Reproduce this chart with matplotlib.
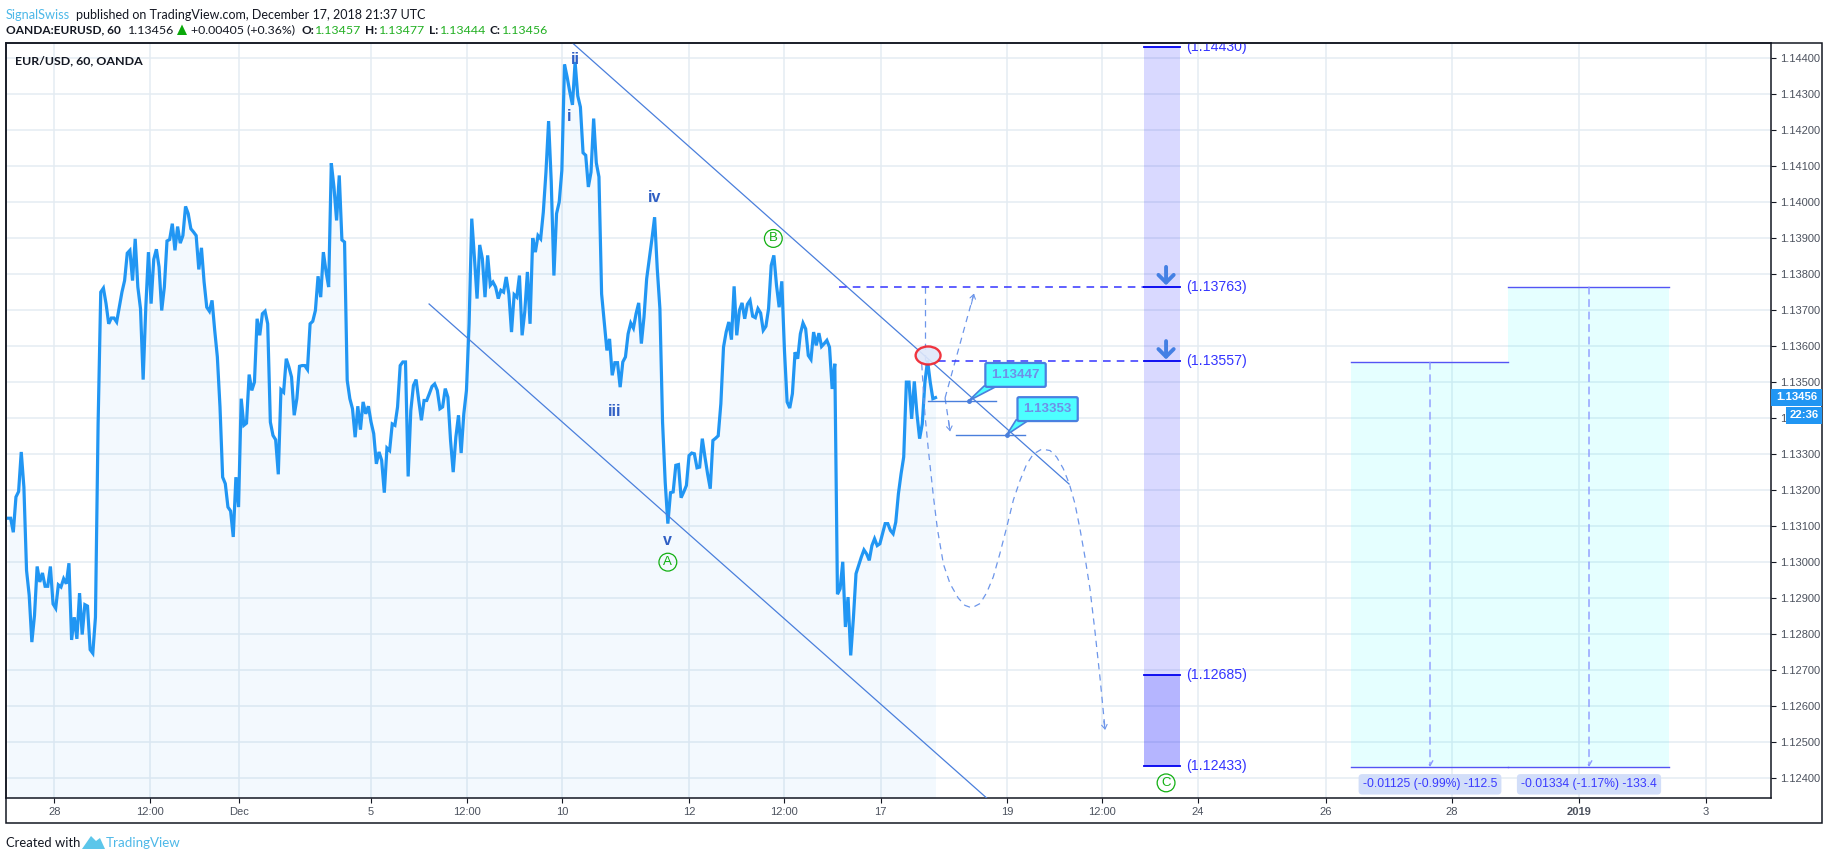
import numpy as np
import matplotlib
matplotlib.use('Agg')
import matplotlib.pyplot as plt
from matplotlib.patches import Ellipse, Rectangle, Polygon

W, H = 1828, 860

# close of each hourly bar
close = [
    1.13121, 1.13121, 1.13082, 1.13180, 1.13195, 1.13305, 1.13207, 1.12976, 1.12907, 1.12777, 1.12851, 1.12987,
    1.12944, 1.12969, 1.12932, 1.12932, 1.12987, 1.12883, 1.12871, 1.12936, 1.12930, 1.12953, 1.12939, 1.12996,
    1.12783, 1.12846, 1.12786, 1.12913, 1.12798, 1.12881, 1.12877, 1.12756, 1.12746, 1.12846, 1.13383, 1.13749,
    1.13760, 1.13717, 1.13661, 1.13677, 1.13677, 1.13666, 1.13707, 1.13749, 1.13781, 1.13857, 1.13865, 1.13781,
    1.13897, 1.13763, 1.13703, 1.13506, 1.13707, 1.13860, 1.13717, 1.13840, 1.13868, 1.13819, 1.13698, 1.13763,
    1.13891, 1.13895, 1.13939, 1.13865, 1.13931, 1.13885, 1.13906, 1.13987, 1.13967, 1.13925, 1.13916, 1.13906,
    1.13812, 1.13872, 1.13777, 1.13707, 1.13696, 1.13726, 1.13643, 1.13569, 1.13430, 1.13235, 1.13217, 1.13152,
    1.13141, 1.13069, 1.13235, 1.13152, 1.13453, 1.13379, 1.13385, 1.13520, 1.13476, 1.13499, 1.13675, 1.13629,
    1.13689, 1.13696, 1.13661, 1.13388, 1.13351, 1.13339, 1.13243, 1.13478, 1.13471, 1.13564, 1.13541, 1.13513,
    1.13407, 1.13453, 1.13543, 1.13545, 1.13545, 1.13534, 1.13661, 1.13668, 1.13698, 1.13793, 1.13735, 1.13860,
    1.13807, 1.13763, 1.14107, 1.14041, 1.13948, 1.14073, 1.13894, 1.13888, 1.13504, 1.13453, 1.13425, 1.13346,
    1.13432, 1.13367, 1.13444, 1.13411, 1.13432, 1.13388, 1.13356, 1.13272, 1.13305, 1.13282, 1.13192, 1.13316,
    1.13309, 1.13383, 1.13379, 1.13430, 1.13545, 1.13555, 1.13555, 1.13237, 1.13420, 1.13490, 1.13506, 1.13448,
    1.13393, 1.13448, 1.13448, 1.13467, 1.13487, 1.13494, 1.13476, 1.13425, 1.13430, 1.13481, 1.13457, 1.13337,
    1.13249, 1.13346, 1.13407, 1.13302, 1.13411, 1.13476, 1.13661, 1.13953, 1.13846, 1.13731, 1.13880, 1.13842,
    1.13735, 1.13851, 1.13768, 1.13777, 1.13763, 1.13731, 1.13754, 1.13749, 1.13791, 1.13744, 1.13638, 1.13742,
    1.13735, 1.13795, 1.13629, 1.13694, 1.13805, 1.13661, 1.13899, 1.13860, 1.13906, 1.13897, 1.13971, 1.14082,
    1.14224, 1.14055, 1.13795, 1.13967, 1.13999, 1.14087, 1.14381, 1.14346, 1.14305, 1.14269, 1.14388, 1.14294,
    1.14263, 1.14136, 1.14129, 1.14041, 1.14082, 1.14231, 1.14108, 1.14069, 1.13744, 1.13666, 1.13587, 1.13619,
    1.13518, 1.13553, 1.13553, 1.13485, 1.13555, 1.13569, 1.13633, 1.13663, 1.13649, 1.13689, 1.13719, 1.13606,
    1.13680, 1.13786, 1.13842, 1.13897, 1.13957, 1.13814, 1.13703, 1.13388, 1.13221, 1.13106, 1.13192, 1.13194,
    1.13268, 1.13270, 1.13178, 1.13194, 1.13212, 1.13295, 1.13302, 1.13300, 1.13261, 1.13263, 1.13342, 1.13291,
    1.13244, 1.13203, 1.13337, 1.13343, 1.13350, 1.13439, 1.13596, 1.13638, 1.13666, 1.13617, 1.13765, 1.13629,
    1.13698, 1.13719, 1.13675, 1.13715, 1.13726, 1.13682, 1.13678, 1.13703, 1.13691, 1.13643, 1.13654, 1.13703,
    1.13823, 1.13851, 1.13768, 1.13707, 1.13779, 1.13587, 1.13444, 1.13427, 1.13467, 1.13582, 1.13564, 1.13633,
    1.13663, 1.13647, 1.13573, 1.13562, 1.13638, 1.13601, 1.13635, 1.13598, 1.13606, 1.13615, 1.13596, 1.13480,
    1.13550, 1.12910, 1.12925, 1.13000, 1.12819, 1.12902, 1.12740, 1.12842, 1.12967, 1.12990, 1.13013, 1.13033,
    1.13022, 1.13004, 1.13045, 1.13064, 1.13045, 1.13050, 1.13078, 1.13106, 1.13106, 1.13087, 1.13078, 1.13110,
    1.13189, 1.13244, 1.13291, 1.13499, 1.13499, 1.13397, 1.13501, 1.13411, 1.13342, 1.13383, 1.13499, 1.13559,
    1.13499, 1.13453, 1.13456,
]

x_ticks = [17.5, 53.4, 87.2, 137, 173.2, 209, 257, 292.8, 329.3, 377, 412.8, 448.9, 497.2, 544.9, 592.8, 640.7]
x_labels = ['28', '12:00', 'Dec', '5', '12:00', '10', '12', '12:00', '17', '19', '12:00', '24', '26', '28', '2019', '3']
y_ticks = [1.124 + 0.001 * k for k in range(21)]

# drawings on the chart
channel_top_x, channel_top_y = [213, 400.4], [1.14441, 1.13216]
channel_low_x, channel_low_y = [158.9, 369.3], [1.13716, 1.12344]
path_x = [344.8, 346, 347.3, 349.2, 350.7, 353, 355.5, 358.6, 361.1, 363.7, 366.8, 369.3, 371.8, 374.3, 376.9,
          379.4, 381.9, 384.4, 386.9, 390.1, 393.2, 395.7, 398.2, 400.5, 402.6, 404.5, 406.4, 408.3, 410.2,
          412.1, 414]
path_y = [1.13549, 1.13410, 1.13311, 1.13182, 1.13092, 1.12993, 1.12939, 1.12899, 1.12879, 1.12872, 1.12884,
          1.12914, 1.12958, 1.13023, 1.13097, 1.13172, 1.13226, 1.13271, 1.13299, 1.13313, 1.13309, 1.13291,
          1.13259, 1.13216, 1.13162, 1.13092, 1.13013, 1.12924, 1.12805, 1.12676, 1.12533]
alt_x, alt_y = [353.6, 364.5], [1.13455, 1.13745]
alt_down_x, alt_down_y = [353.6, 355.5], [1.13455, 1.13362]
levels = [1.14430, 1.13763, 1.13557, 1.12685, 1.12433]
level_labels = ['(1.14430)', '(1.13763)', '(1.13557)', '(1.12685)', '(1.12433)']
wave_labels = ['ii', 'i', 'iv', 'iii', 'v']
wave_x = [214, 211.9, 244.1, 229, 249]
wave_y = [1.14394, 1.14236, 1.14011, 1.13417, 1.13060]
circle_labels = ['A', 'B', 'C']
circle_x = [249, 288.8, 437]
circle_y = [1.12999, 1.13898, 1.12386]
proj_left = [506.7, 566]
proj_right = [566, 626.7]
proj_top = [1.13554, 1.13763]
proj_bottom = 1.12430
proj_mid = [536.6, 596.6]
proj_text = ['-0.01125 (-0.99%) -112.5', '-0.01334 (-1.17%) -133.4']

BLUE = '#2196f3'
GRID = '#e4ecf2'
DRAW = '#4a7fdc'
FORE = '#6d96ea'
LEVEL = '#3434ff'
GREEN = '#12b012'
TV = '#4db8e8'
INK = '#131722'

plt.rcParams['font.family'] = ['Liberation Sans', 'DejaVu Sans']


def fx(x):
    return x / W


def fy(y):
    return 1 - y / H


fig = plt.figure(figsize=(W / 100, H / 100), dpi=100, facecolor='white')
ax = fig.add_axes([fx(6.3), fy(798), (1770.8 - 6.3) / W, (798 - 43.3) / H])
ax.set_xlim(-0.64, 665.2)
ax.set_ylim(1.12344, 1.14440)

ax.set_xticks(x_ticks)
ax.set_xticklabels(x_labels)
ax.set_yticks(y_ticks)
ax.set_yticklabels(['%.5f' % v for v in y_ticks])
ax.yaxis.tick_right()
ax.grid(True, color=GRID, lw=1.1)
ax.set_axisbelow(True)
ax.tick_params(axis='both', length=3.5, width=0.8, color=INK, labelcolor='#4c525e', labelsize=8, pad=3)
ax.get_xticklabels()[14].set_fontweight('bold')
for s in ax.spines.values():
    s.set_color(INK)
    s.set_linewidth(1.1)

bars = np.arange(len(close))
ax.fill_between(bars, close, 1.12344, color=BLUE, alpha=0.05, lw=0, zorder=1)
ax.plot(bars, close, color=BLUE, lw=2.3, solid_joinstyle='miter', zorder=3)

# channel
ax.plot(channel_top_x, channel_top_y, color=DRAW, lw=0.9, zorder=4)
ax.plot(channel_low_x, channel_low_y, color=DRAW, lw=0.9, zorder=4)

# forecast paths
dash = (0, (5, 4))
ax.plot(path_x, path_y, color=FORE, lw=0.9, ls=dash, zorder=4)
ax.plot(alt_x, alt_y, color=FORE, lw=0.9, ls=dash, zorder=4)
ax.plot(alt_down_x, alt_down_y, color=FORE, lw=0.9, ls=dash, zorder=4)
ax.plot([346, 346], [1.13763, 1.13548], color=FORE, lw=0.9, ls=dash, zorder=4)
head = dict(arrowstyle='->,head_length=0.3,head_width=0.2', color=FORE, lw=0.8, shrinkA=0, shrinkB=0)
ax.annotate('', xy=(path_x[-1], path_y[-1]), xytext=(path_x[-2] + 1.4, path_y[-1] + 0.00025), arrowprops=head)
ax.annotate('', xy=(alt_x[1], alt_y[1]), xytext=(alt_x[1] - 1, alt_y[1] - 0.0003), arrowprops=head)
ax.annotate('', xy=(alt_down_x[1], alt_down_y[1]), xytext=(alt_down_x[1] - 0.6, alt_down_y[1] + 0.0003), arrowprops=head)

# fib column
col_x = [428.5, 442.4]
ax.fill_between(col_x, levels[3], levels[0], color='#0000ff', alpha=0.15, lw=0, zorder=2)
ax.fill_between(col_x, levels[4], levels[3], color='#0000ff', alpha=0.29, lw=0, zorder=2)
for lv, txt in zip(levels, level_labels):
    ax.plot(col_x, [lv, lv], color='#0000f0', lw=1.3, zorder=5)
    ax.text(444.7, lv, txt, color=LEVEL, fontsize=10.2, va='center', ha='left', clip_on=True, zorder=5)
ax.plot([313.6, col_x[0]], [levels[1], levels[1]], color=LEVEL, lw=1.1, ls=dash, zorder=4)
ax.plot([351, col_x[0]], [levels[2], levels[2]], color=LEVEL, lw=1.1, ls=dash, zorder=4)
fat = dict(arrowstyle='->,head_length=0.55,head_width=0.55', color='#4480e4', lw=2.8, shrinkA=0, shrinkB=0)
for lv in levels[1:3]:
    ax.annotate('', xy=(437, lv + 0.00005), xytext=(437, lv + 0.00056), arrowprops=fat, zorder=6)

# red circle on the last high
ax.add_patch(Ellipse((347.2, 1.13573), 9.4, 0.00050, fc='#dfe8fa', ec='#f0202a', lw=1.7, alpha=0.9, zorder=5))

# price callouts
for price, x0, x1, tip, tail0, tail1, tail_y, bx, by, txt in [
        (1.13447, 347.3, 373, 362.5, 368.3, 373.2, 1.13488, 380.2, 1.13519, '1.13447'),
        (1.13353, 357.7, 383.8, 376.9, 380.4, 385.3, 1.13394, 392.3, 1.13424, '1.13353')]:
    ax.plot([x0, x1], [price, price], color=DRAW, lw=1, zorder=5)
    ax.add_patch(Polygon([(tip, price), (tail0, tail_y), (tail1, tail_y)], fc='#4dffff', ec=DRAW, lw=1.2, zorder=6))
    ax.plot([tip], [price], 'o', color=DRAW, ms=2.5, zorder=6)
    ax.text(bx, by, txt, color='#6f8fe8', fontsize=9.5, fontweight='bold', ha='center', va='center', zorder=7,
            bbox=dict(boxstyle='round,pad=0.45,rounding_size=0.12', fc='#4dffff', ec='#4a80e0', lw=1.6))

# wave labels
for t, x, y in zip(wave_labels, wave_x, wave_y):
    ax.text(x, y, t, color='#2f5fc4', fontsize=11.5, fontweight='bold', ha='center', va='center', zorder=6)
for t, x, y in zip(circle_labels, circle_x, circle_y):
    ax.text(x, y, t, color=GREEN, fontsize=9.5, ha='center', va='center', zorder=6,
            bbox=dict(boxstyle='circle,pad=0.22', fc='none', ec=GREEN, lw=0.9))

# projection boxes
for x0, x1, top, mid, txt in zip(proj_left, proj_right, proj_top, proj_mid, proj_text):
    ax.fill_between([x0, x1], proj_bottom, top, color='#00ffff', alpha=0.1, lw=0, zorder=2)
    ax.plot([x0, x1], [top, top], color='#5454f4', lw=1, zorder=4)
    ax.plot([x0, x1], [proj_bottom, proj_bottom], color='#5454f4', lw=1, zorder=4)
    ax.annotate('', xy=(mid, proj_bottom), xytext=(mid, top),
                arrowprops=dict(arrowstyle='->,head_length=0.35,head_width=0.2', color='#8c98ff', lw=1,
                                ls=dash, shrinkA=0, shrinkB=0), zorder=4)
    ax.text(mid, 1.12382, txt, color='#3a3aff', fontsize=8.7, ha='center', va='center', zorder=6,
            bbox=dict(boxstyle='round,pad=0.35,rounding_size=0.3', fc='#d2def9', ec='none'))

ax.text(8.7 / 1764.5, 0.977, 'EUR/USD, 60, OANDA', transform=ax.transAxes, color=INK, fontsize=8.9,
        fontweight='bold', family='Lato', va='center', ha='left', zorder=8)

# outer frame and axis badges
fig.add_artist(Rectangle((fx(6.3), fy(823)), (1822 - 6.3) / W, (823 - 43.3) / H, transform=fig.transFigure,
                         fc='none', ec=INK, lw=1.1))
fig.add_artist(Rectangle((fx(1770.8), fy(406)), (1822 - 1770.8) / W, 17 / H, transform=fig.transFigure, fc=BLUE, ec='none'))
fig.add_artist(Rectangle((fx(1786), fy(424)), (1822 - 1786) / W, 17.5 / H, transform=fig.transFigure, fc=BLUE, ec='none'))
fig.text(fx(1797), fy(397.5), '1.13456', color='white', fontsize=8.2, fontweight='bold', ha='center', va='center')
fig.text(fx(1804), fy(415.5), '22:36', color='white', fontsize=8.2, fontweight='bold', ha='center', va='center')

# header
fig.text(fx(6), fy(15), 'SignalSwiss', color=TV, fontsize=9.2, family='Lato', va='center')
fig.text(fx(76), fy(15), 'published on TradingView.com, December 17, 2018 21:37 UTC', color=INK, fontsize=9,
         family='Lato', va='center')
fig.text(fx(6), fy(30), 'OANDA:EURUSD, 60', color=INK, fontsize=8.6, fontweight='bold', family='Lato', va='center')
fig.text(fx(128), fy(30), '1.13456', color=INK, fontsize=8.9, family='Lato', va='center')
fig.add_artist(Polygon([(fx(177), fy(35)), (fx(187), fy(35)), (fx(182), fy(24.5))], transform=fig.transFigure,
                       fc='#0aa80a', ec='none'))
fig.text(fx(191), fy(30), '+0.00405 (+0.36%)', color=INK, fontsize=8.9, family='Lato', va='center')
for label, lx, value, vx in [('O:', 301, '1.13457', 315), ('H:', 365, '1.13477', 379),
                             ('L:', 429, '1.13444', 440), ('C:', 490, '1.13456', 502)]:
    fig.text(fx(lx), fy(30), label, color=INK, fontsize=8.6, fontweight='bold', family='Lato', va='center')
    fig.text(fx(vx), fy(30), value, color='#22b022', fontsize=8.9, family='Lato', va='center')

# footer
fig.text(fx(6), fy(843), 'Created with', color=INK, fontsize=9.4, family='Lato', va='center')
fig.add_artist(Polygon([(fx(82), fy(849)), (fx(91), fy(836)), (fx(96), fy(841)), (fx(100), fy(838)), (fx(105), fy(849))],
                       transform=fig.transFigure, fc='#5cc6ea', ec='none'))
fig.text(fx(106), fy(843), 'TradingView', color=TV, fontsize=9.6, family='Lato', va='center')

fig.savefig('out.png', dpi=100)
